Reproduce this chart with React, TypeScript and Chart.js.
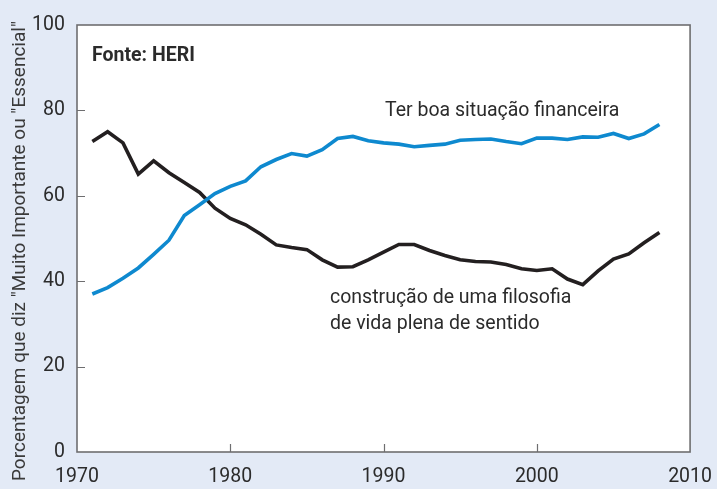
import React, { useEffect, useRef } from "react";
import { Chart, registerables } from "chart.js";

Chart.register(...registerables);

const years = [
  1971, 1972, 1973, 1974, 1975, 1976, 1977, 1978, 1979, 1980,
  1981, 1982, 1983, 1984, 1985, 1986, 1987, 1988, 1989, 1990,
  1991, 1992, 1993, 1994, 1995, 1996, 1997, 1998, 1999, 2000,
  2001, 2002, 2003, 2004, 2005, 2006, 2007, 2008,
];

const financialValues = [
  37.0, 38.5, 40.7, 43.1, 46.3, 49.6, 55.4, 57.9, 60.5, 62.2,
  63.5, 66.8, 68.5, 69.9, 69.3, 70.8, 73.4, 73.9, 72.9, 72.4,
  72.1, 71.5, 71.8, 72.1, 73.0, 73.2, 73.3, 72.7, 72.2, 73.5,
  73.5, 73.2, 73.8, 73.7, 74.6, 73.4, 74.5, 76.7,
];

const philosophyValues = [
  72.7, 75.0, 72.4, 65.1, 68.2, 65.4, 63.1, 60.8, 57.1, 54.7,
  53.2, 51.0, 48.5, 47.9, 47.4, 45.0, 43.3, 43.4, 45.0, 46.8,
  48.6, 48.6, 47.2, 46.0, 45.0, 44.6, 44.5, 43.9, 42.9, 42.5,
  42.9, 40.5, 39.2, 42.4, 45.2, 46.4, 49.0, 51.4,
];

const xTicks = [1970, 1980, 1990, 2000, 2010];
const yTicks = [0, 20, 40, 60, 80, 100];

const financialLabel = "Ter boa situação financeira";
const philosophyLabel = ["construção de uma filosofia", "de vida plena de sentido"];
const sourceLabel = "Fonte: HERI";
const yTitle = "Porcentagem que diz \u2033Muito Importante ou \u2033Essencial\u2033";

const BG = "#e3eaf6";
const BLUE = "#0e89cf";
const DARK = "#231f20";
const TEXT = "#2b2b2b";
const FONT = "Roboto, 'Liberation Sans', sans-serif";

const decorPlugin = {
  id: "decor",
  beforeDraw(chart: any) {
    const { ctx, chartArea: a } = chart;
    ctx.save();
    ctx.fillStyle = BG;
    ctx.fillRect(0, 0, chart.width, chart.height);
    ctx.fillStyle = "#ffffff";
    ctx.fillRect(a.left, a.top, a.right - a.left, a.bottom - a.top);
    ctx.restore();
  },
  afterDraw(chart: any) {
    const { ctx, chartArea: a, scales } = chart;
    ctx.save();
    ctx.strokeStyle = "#6e6e70";
    ctx.lineWidth = 1.6;
    ctx.strokeRect(a.left, a.top, a.right - a.left, a.bottom - a.top);
    ctx.lineWidth = 1.2;
    ctx.beginPath();
    yTicks.forEach((v) => {
      if (v === 0 || v === 100) return;
      const y = Math.round(scales.y.getPixelForValue(v)) + 0.5;
      ctx.moveTo(a.left, y);
      ctx.lineTo(a.left + 8, y);
    });
    xTicks.forEach((v) => {
      if (v === 1970 || v === 2010) return;
      const x = Math.round(scales.x.getPixelForValue(v)) + 0.5;
      ctx.moveTo(x, a.bottom);
      ctx.lineTo(x, a.bottom - 8);
    });
    ctx.stroke();

    ctx.fillStyle = TEXT;
    ctx.textBaseline = "alphabetic";
    ctx.textAlign = "left";
    ctx.font = `bold 19.5px ${FONT}`;
    ctx.fillText(sourceLabel, 92, 61);
    ctx.font = `19.5px ${FONT}`;
    ctx.fillText(financialLabel, 385, 116);
    ctx.fillText(philosophyLabel[0], 330, 303);
    ctx.fillText(philosophyLabel[1], 330, 329);

    ctx.translate(25, 251);
    ctx.rotate(-Math.PI / 2);
    ctx.textAlign = "center";
    ctx.fillStyle = "#3a3a3a";
    ctx.font = `19px ${FONT}`;
    ctx.fillText(yTitle, 0, 0);
    ctx.restore();
  },
};

export default function App() {
  const ref = useRef<HTMLCanvasElement | null>(null);

  useEffect(() => {
    document.body.style.margin = "0";
    const canvas = ref.current;
    if (!canvas) return;
    const chart = new Chart(canvas, {
      type: "line",
      data: {
        datasets: [
          {
            label: financialLabel,
            data: years.map((yr, i) => ({ x: yr, y: financialValues[i] })),
            borderColor: BLUE,
            borderWidth: 3.6,
            pointRadius: 0,
            tension: 0,
            fill: false,
          },
          {
            label: philosophyLabel.join(" "),
            data: years.map((yr, i) => ({ x: yr, y: philosophyValues[i] })),
            borderColor: DARK,
            borderWidth: 3.6,
            pointRadius: 0,
            tension: 0,
            fill: false,
          },
        ],
      },
      options: {
        animation: false,
        responsive: false,
        maintainAspectRatio: false,
        layout: { padding: { top: 25, right: 22, bottom: 0, left: 0 } },
        plugins: { legend: { display: false }, tooltip: { enabled: false } },
        scales: {
          x: {
            type: "linear",
            min: 1970,
            max: 2010,
            afterBuildTicks: (s: any) => {
              s.ticks = xTicks.map((v) => ({ value: v }));
            },
            afterFit: (s: any) => {
              s.height = 37;
            },
            grid: { display: false },
            border: { display: false },
            ticks: {
              padding: 5,
              color: TEXT,
              font: { family: FONT, size: 19.5 },
              maxRotation: 0,
              callback: (v: any) => String(v),
            },
          },
          y: {
            min: 0,
            max: 100,
            afterBuildTicks: (s: any) => {
              s.ticks = yTicks.map((v) => ({ value: v }));
            },
            afterFit: (s: any) => {
              s.width = 77;
            },
            grid: { display: false },
            border: { display: false },
            ticks: {
              padding: 4,
              color: TEXT,
              font: { family: FONT, size: 19.5 },
              callback: (v: any) => String(v),
            },
          },
        },
      },
      plugins: [decorPlugin],
    });
    return () => chart.destroy();
  }, []);

  return <canvas ref={ref} width={717} height={489} style={{ display: "block" }} />;
}
